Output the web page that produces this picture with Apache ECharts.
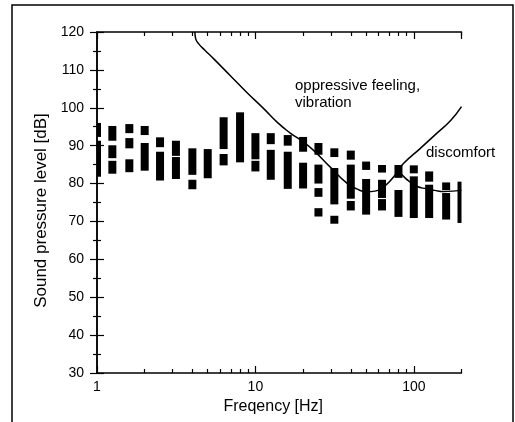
<!DOCTYPE html>
<html>
<head>
<meta charset="utf-8">
<script src="https://cdn.jsdelivr.net/npm/echarts@6/dist/echarts.min.js"></script>
<style>
  html, body { margin: 0; padding: 0; background: #fff; }
  #chart { width: 515px; height: 422px; }
</style>
</head>
<body>
<div id="chart"></div>
<script>
// 1/3 octave bands [Hz]
const bandHz = [1, 1.25, 1.6, 2, 2.5, 3.15, 4, 5, 6.3, 8, 10, 12.5, 16, 20, 25, 31.5, 40, 50, 63, 80, 100, 125, 160, 200];
// measured level ranges per band [dB] (low, high) - black blocks
const levelRanges = [
  [[81.8, 91.3], [92.3, 96.0]],
  [[82.6, 86.0], [86.7, 90.1], [91.3, 95.2]],
  [[83.0, 86.4], [89.3, 92.0], [93.3, 95.7]],
  [[83.4, 90.7], [92.8, 95.2]],
  [[80.8, 88.4], [89.6, 92.2]],
  [[81.2, 87.0], [87.3, 91.3]],
  [[78.5, 81.0], [82.3, 89.3]],
  [[81.4, 89.1]],
  [[84.8, 87.8], [89.1, 97.5]],
  [[85.6, 98.8]],
  [[83.2, 86.0], [86.4, 93.3]],
  [[81.0, 88.9], [90.4, 93.3]],
  [[78.6, 88.4], [90.0, 92.8]],
  [[78.7, 85.5], [88.4, 92.3]],
  [[71.3, 73.5], [76.5, 78.8], [80.0, 85.0], [87.6, 90.7]],
  [[69.4, 71.5], [74.5, 84.1], [87.0, 89.3]],
  [[72.9, 75.4], [76.0, 85.0], [86.3, 88.7]],
  [[71.8, 81.2], [83.6, 85.8]],
  [[72.9, 75.9], [76.2, 81.0], [82.9, 84.9]],
  [[71.2, 78.3], [81.5, 84.9]],
  [[70.9, 81.9], [82.7, 84.8]],
  [[70.9, 79.7], [80.5, 83.2]],
  [[70.5, 77.5], [78.3, 80.3]],
  [[69.6, 80.5]]
];

// threshold curves
const oppressiveHz = [4.15, 4.2, 4.4, 4.8, 5.4, 6.9, 8.8, 11.2, 13.7, 16.5, 19.1, 23.1, 29.6, 37.8, 43.6, 50.5, 56.7, 65.5, 80, 86, 110, 140, 172, 200];
const oppressiveDb = [120, 118.2, 116.8, 115.2, 113.1, 108.6, 104.1, 99.9, 96.2, 93.4, 91.6, 88.9, 84.4, 80.1, 78.6, 77.8, 78.0, 79.3, 83.4, 85.3, 89.3, 93.3, 96.8, 100.3];
const discomfortHz = [80, 88, 95, 104, 120, 135, 155, 200];
const discomfortDb = [83.4, 81.5, 80.4, 79.3, 78.6, 78.2, 77.9, 78.2];

// axis ticks
const minorTickHz = [2, 3, 4, 5, 6, 7, 8, 9, 20, 30, 40, 50, 60, 70, 80, 90, 200];
const yTicks = [30, 120, 10];

const blocks = [];
bandHz.forEach((f, i) => {
  levelRanges[i].forEach((r) => blocks.push([f, r[0], r[1]]));
});

const font = '"Liberation Sans", Arial, Helvetica, sans-serif';
const black = '#000';
const xMaxLog = Math.log10(200);
const minorLog = minorTickHz.map((v) => Math.log10(v));

const chart = echarts.init(document.getElementById('chart'));
const option = {
  animation: false,
  backgroundColor: '#fff',
  grid: { left: 97, right: 53.5, top: 32, bottom: 49 },
  xAxis: [
    {
      type: 'log', logBase: 10, min: 1, max: 200, position: 'bottom',
      name: 'Freqency [Hz]', nameLocation: 'middle', nameGap: 23,
      nameTextStyle: { color: black, fontSize: 16, fontFamily: font, padding: [0, 12, 0, 0] },
      axisLine: { lineStyle: { color: black, width: 1.5 } },
      axisTick: { inside: true, length: 7, lineStyle: { color: black, width: 1.2 } },
      axisLabel: { color: black, fontSize: 14, fontFamily: font, margin: 7, showMaxLabel: false },
      splitLine: { show: false }
    },
    {
      type: 'value', min: 0, max: xMaxLog, position: 'bottom',
      axisLine: { show: false },
      axisTick: { inside: true, length: 4, customValues: minorLog, lineStyle: { color: black, width: 1.2 } },
      axisLabel: { show: false },
      splitLine: { show: false }
    },
    {
      type: 'value', min: 0, max: xMaxLog, position: 'top',
      axisLine: { lineStyle: { color: black, width: 1.5 } },
      axisTick: { inside: true, length: 4, customValues: minorLog, lineStyle: { color: black, width: 1.2 } },
      axisLabel: { show: false },
      splitLine: { show: false }
    },
    {
      type: 'log', logBase: 10, min: 1, max: 200, position: 'top',
      axisLine: { show: false },
      axisTick: { inside: true, length: 7, lineStyle: { color: black, width: 1.2 } },
      axisLabel: { show: false },
      splitLine: { show: false }
    }
  ],
  yAxis: [
    {
      type: 'value', min: yTicks[0], max: yTicks[1], interval: yTicks[2], position: 'left',
      name: 'Sound pressure level [dB]', nameLocation: 'middle', nameGap: 46, nameRotate: 90,
      nameTextStyle: { color: black, fontSize: 17, fontFamily: font, padding: [0, 16, 0, 0] },
      axisLine: { show: true, lineStyle: { color: black, width: 1.5 } },
      axisTick: { show: true, inside: true, length: 7, lineStyle: { color: black, width: 1.2 } },
      minorTick: { show: true, splitNumber: 2, length: 4, lineStyle: { color: black, width: 1.2 } },
      axisLabel: { color: black, fontSize: 14, fontFamily: font, margin: 13 },
      splitLine: { show: false }
    },
    {
      type: 'value', min: yTicks[0], max: yTicks[1], interval: yTicks[2], position: 'right',
      axisLine: { show: true, lineStyle: { color: black, width: 1.5 } },
      axisTick: { show: true, inside: true, length: 7, lineStyle: { color: black, width: 1.2 } },
      minorTick: { show: true, splitNumber: 2, length: 4, lineStyle: { color: black, width: 1.2 } },
      axisLabel: { show: false },
      splitLine: { show: false }
    }
  ],
  series: [
    {
      type: 'custom',
      xAxisIndex: 0,
      yAxisIndex: 0,
      encode: { x: 0, y: [1, 2] },
      data: blocks,
      renderItem: (params, api) => {
        const f = api.value(0);
        const top = api.coord([f, api.value(2)]);
        const bottom = api.coord([f, api.value(1)]);
        const w = 8;
        const shape = echarts.graphic.clipRectByRect(
          { x: top[0] - w / 2, y: top[1], width: w, height: bottom[1] - top[1] },
          { x: params.coordSys.x, y: params.coordSys.y, width: params.coordSys.width, height: params.coordSys.height }
        );
        return shape && { type: 'rect', shape: shape, style: { fill: black } };
      }
    },
    {
      type: 'line',
      xAxisIndex: 0,
      yAxisIndex: 0,
      data: oppressiveHz.map((f, i) => [f, oppressiveDb[i]]),
      smooth: 0.5,
      showSymbol: false,
      lineStyle: { color: black, width: 1.5 }
    },
    {
      type: 'line',
      xAxisIndex: 0,
      yAxisIndex: 0,
      data: discomfortHz.map((f, i) => [f, discomfortDb[i]]),
      smooth: 0.5,
      showSymbol: false,
      lineStyle: { color: black, width: 1.5 }
    }
  ],
  graphic: [
    {
      type: 'rect', z: 0, silent: true,
      shape: { x: 12, y: 5, width: 501, height: 430 },
      style: { fill: null, stroke: black, lineWidth: 1.5 }
    },
    {
      type: 'text', left: 295, top: 77, z: 10,
      style: { text: 'oppressive feeling,\nvibration', fill: black, font: '15px ' + font, lineHeight: 17 }
    },
    {
      type: 'text', left: 426, top: 145, z: 10,
      style: { text: 'discomfort', fill: black, font: '15px ' + font }
    }
  ]
};
chart.setOption(option);
</script>
</body>
</html>
